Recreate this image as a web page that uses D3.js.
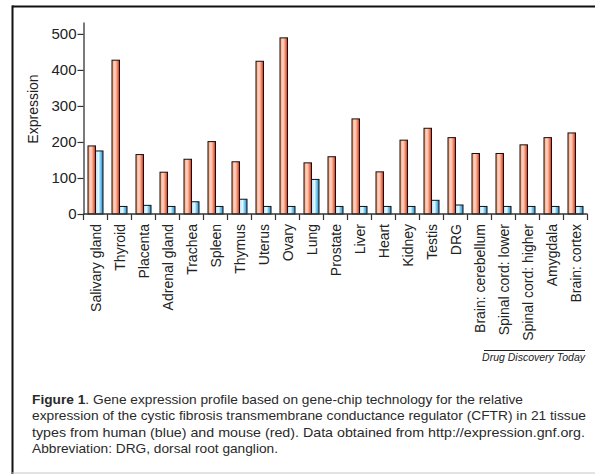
<html>
<head>
<style>
  body { margin: 0; background: #fff; }
  svg text { font-family: "Liberation Sans", Arial, sans-serif; }
</style>
</head>
<body>
<svg id="chart" width="595" height="475"></svg>
<script src="https://cdn.jsdelivr.net/npm/d3@7"></script>
<script>
// tissues, in plot order
const tissues = ["Salivary gland", "Thyroid", "Placenta", "Adrenal gland", "Trachea", "Spleen",
  "Thymus", "Uterus", "Ovary", "Lung", "Prostate", "Liver", "Heart", "Kidney", "Testis", "DRG",
  "Brain: cerebellum", "Spinal cord: lower", "Spinal cord: higher", "Amygdala", "Brain: cortex"]
// mouse (red) and human (blue) expression
const mouse = [189, 427, 165, 116, 152, 201, 145, 424, 489, 142, 159, 264, 117, 205, 238, 212, 168, 168, 192, 212, 225]
const human = [175, 21, 24, 21, 34, 21, 41, 21, 21, 96, 21, 21, 21, 21, 38, 25, 21, 21, 21, 21, 21]
const yTicks = [0, 100, 200, 300, 400, 500]
const captionLines = [
  "expression of the cystic fibrosis transmembrane conductance regulator (CFTR) in 21 tissue",
  "types from human (blue) and mouse (red). Data obtained from http://expression.gnf.org.",
  "Abbreviation: DRG, dorsal root ganglion."
]

let svg = d3.select("#chart")

// gradients for the shaded bars
let defs = svg.append("defs")
function grad(id, stops) {
  let g = defs.append("linearGradient").attr("id", id)
  stops.forEach(s => g.append("stop").attr("offset", s[0]).attr("stop-color", s[1]))
}
grad("redGrad", [["0%", "#f39a7a"], ["40%", "#fdd8c6"], ["70%", "#f48a68"], ["100%", "#dc2418"]])
grad("blueGrad", [["0%", "#b8e3f8"], ["40%", "#e4f6fd"], ["75%", "#5bbcec"], ["100%", "#1a8cd0"]])

// frame
svg.append("line").attr("x1", 12).attr("x2", 600).attr("y1", 6.5).attr("y2", 6.5)
  .attr("stroke", "#111").attr("stroke-width", 2)
svg.append("line").attr("x1", 12.5).attr("x2", 12.5).attr("y1", 5.5).attr("y2", 474)
  .attr("stroke", "#111").attr("stroke-width", 2)
svg.append("line").attr("x1", 12).attr("x2", 600).attr("y1", 473).attr("y2", 473)
  .attr("stroke", "#c8c8c8").attr("stroke-width", 1)

let x = d3.scaleBand().domain(tissues).range([83.5, 587.5])
let inner = d3.scaleBand().domain(["mouse", "human"]).range([0, x.bandwidth()]).paddingOuter(0.6)
let y = d3.scaleLinear().domain([0, 533]).range([214, 22])

let rows = tissues.map((t, i) => ({ name: t, mouse: mouse[i], human: human[i] }))

let groups = svg.append("g").selectAll("g").data(rows).join("g")
  .attr("transform", d => `translate(${x(d.name)},0)`)
groups.selectAll("rect")
  .data(d => [{ k: "mouse", v: d.mouse }, { k: "human", v: d.human }])
  .join("rect")
  .attr("x", d => inner(d.k))
  .attr("width", inner.bandwidth())
  .attr("y", d => y(d.v))
  .attr("height", d => y(0) - y(d.v))
  .attr("fill", d => d.k === "mouse" ? "url(#redGrad)" : "url(#blueGrad)")
  .attr("stroke", "#111")
  .attr("stroke-width", 1)

// y axis
let yAxis = svg.append("g").attr("transform", "translate(83.5,0)")
  .call(d3.axisLeft(y).tickValues(yTicks).tickSize(6).tickSizeOuter(0))
yAxis.select(".domain").attr("stroke", "#333").attr("stroke-width", 1.3)
yAxis.selectAll(".tick line").attr("stroke", "#333").attr("stroke-width", 1.2)
yAxis.selectAll(".tick text").attr("font-size", 15).attr("fill", "#222")
  .attr("font-family", "Liberation Sans, Arial, sans-serif").attr("x", -7)

svg.append("text").attr("transform", "translate(38,109) rotate(-90)")
  .attr("text-anchor", "middle").attr("font-size", 14).attr("fill", "#222").text("Expression")

// x axis with ticks at band edges
let xAxis = svg.append("g").attr("transform", `translate(0,${y(0)})`)
xAxis.append("line").attr("x1", 83.5).attr("x2", 587.5).attr("stroke", "#333").attr("stroke-width", 1.3)
xAxis.selectAll(".edge").data(tissues.concat(["end"])).join("line").attr("class", "edge")
  .attr("x1", (d, i) => i < tissues.length ? x(d) : x.range()[1])
  .attr("x2", (d, i) => i < tissues.length ? x(d) : x.range()[1])
  .attr("y1", 0).attr("y2", 6).attr("stroke", "#333").attr("stroke-width", 1.2)
xAxis.selectAll("text").data(tissues).join("text")
  .attr("transform", d => `translate(${x(d) + x.bandwidth() / 2 + 5},10) rotate(-90)`)
  .attr("text-anchor", "end").attr("font-size", 14).attr("fill", "#222").text(d => d)

// source credit
svg.append("line").attr("x1", 484).attr("x2", 585).attr("y1", 350.5).attr("y2", 350.5)
  .attr("stroke", "#222").attr("stroke-width", 1)
svg.append("text").attr("x", 585).attr("y", 361).attr("text-anchor", "end")
  .attr("font-size", 10.5).attr("font-style", "italic").attr("fill", "#222")
  .text("Drug Discovery Today")

// caption
let cap = svg.append("g").attr("font-size", 13.5).attr("fill", "#2a2a2a")
let first = cap.append("text").attr("x", 32).attr("y", 404)
first.append("tspan").attr("font-weight", "bold").text("Figure 1")
first.append("tspan").text(". Gene expression profile based on gene-chip technology for the relative")
cap.selectAll(".cl").data(captionLines).join("text").attr("class", "cl")
  .attr("x", 32).attr("y", (d, i) => 404 + (i + 1) * 16.3)
  .text(d => d)
cap.selectAll("text").each(function (d, i) {
  let widths = [491, 554, 553, 246]
  d3.select(this).attr("textLength", widths[i]).attr("lengthAdjust", "spacingAndGlyphs")
})
</script>
</body>
</html>
